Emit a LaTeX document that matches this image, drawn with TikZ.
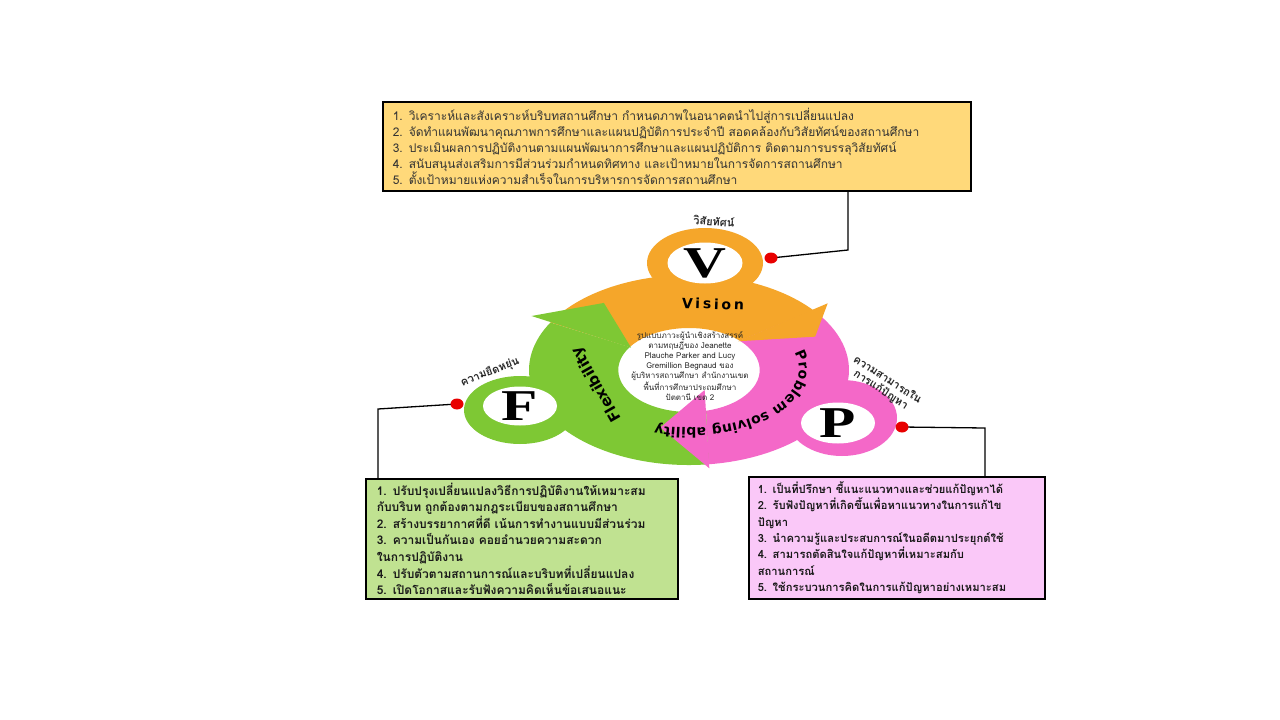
\documentclass[tikz,border=0pt]{standalone}
\usepackage{fontspec}
\usetikzlibrary{shapes.geometric,decorations.text}
\newfontfamily\thai[Script=Thai]{Loma}
\newfontfamily\ringfont{DejaVu Sans}
\newfontfamily\bigserif{Liberation Serif}
\definecolor{vorange}{RGB}{245,166,42}
\definecolor{fgreen}{RGB}{126,200,52}
\definecolor{ppink}{RGB}{244,104,200}
\definecolor{yfill}{RGB}{255,217,122}
\definecolor{gfill}{RGB}{192,226,145}
\definecolor{pfill}{RGB}{250,200,248}
\definecolor{reddot}{RGB}{232,0,0}
\begin{document}
\begin{tikzpicture}[x=1pt,y=1pt,
  infobox/.style={draw=black, line width=1.5pt, anchor=north west, align=left, inner ysep=0pt},
  conn/.style={draw=black, line width=1.3pt},
  dotnode/.style={ellipse, fill=reddot, minimum width=13pt, minimum height=11pt, inner sep=0pt},
  hole/.style={ellipse, fill=white, inner sep=0pt},
  bigletter/.style={font=\bigserif\bfseries\fontsize{44}{44}\selectfont, inner sep=0pt},
  sidelabel/.style={font=\thai\bfseries\fontsize{11}{12}\selectfont, text=black!85, inner sep=0pt, align=center},
  ringlabel/.style={font=\ringfont\bfseries\fontsize{14}{14}\selectfont, text=black, inner sep=0pt}
]
\fill[white] (0,0) rectangle (1280,-720);
\useasboundingbox (0,0) rectangle (1280,-720);

% boxes
\node[infobox, fill=yfill, text width=568pt, inner xsep=10pt, minimum height=89pt,
  font=\thai\fontsize{12}{16}\selectfont, text=black!80] (ybox) at (382,-101)
{1. วิเคราะห์และสังเคราะห์บริบทสถานศึกษา กำหนดภาพในอนาคตนำไปสู่การเปลี่ยนแปลง\\
2. จัดทำแผนพัฒนาคุณภาพการศึกษาและแผนปฏิบัติการประจำปี สอดคล้องกับวิสัยทัศน์ของสถานศึกษา\\
3. ประเมินผลการปฏิบัติงานตามแผนพัฒนาการศึกษาและแผนปฏิบัติการ ติดตามการบรรลุวิสัยทัศน์\\
4. สนับสนุนส่งเสริมการมีส่วนร่วมกำหนดทิศทาง และเป้าหมายในการจัดการสถานศึกษา\\
5. ตั้งเป้าหมายแห่งความสำเร็จในการบริหารการจัดการสถานศึกษา};

\node[infobox, fill=gfill, text width=290pt, inner xsep=11pt, minimum height=120pt,
  font=\thai\bfseries\fontsize{12}{16.6}\selectfont, text=black!90] (gbox) at (365,-478)
{1. ปรับปรุงเปลี่ยนแปลงวิธีการปฏิบัติงานให้เหมาะสม\\
กับบริบท ถูกต้องตามกฎระเบียบของสถานศึกษา\\
2. สร้างบรรยากาศที่ดี เน้นการทำงานแบบมีส่วนร่วม\\
3. ความเป็นกันเอง คอยอำนวยความสะดวก\\
ในการปฏิบัติงาน\\
4. ปรับตัวตามสถานการณ์และบริบทที่เปลี่ยนแปลง\\
5. เปิดโอกาสและรับฟังความคิดเห็นข้อเสนอแนะ};

\node[infobox, fill=pfill, text width=278pt, inner xsep=9pt, minimum height=122pt,
  font=\thai\bfseries\fontsize{11.2}{16.4}\selectfont, text=black!90] (pbox) at (748,-476)
{1. เป็นที่ปรึกษา ชี้แนะแนวทางและช่วยแก้ปัญหาได้\\
2. รับฟังปัญหาที่เกิดขึ้นเพื่อหาแนวทางในการแก้ไข\\
ปัญหา\\
3. นำความรู้และประสบการณ์ในอดีตมาประยุกต์ใช้\\
4. สามารถตัดสินใจแก้ปัญหาที่เหมาะสมกับ\\
สถานการณ์\\
5. ใช้กระบวนการคิดในการแก้ปัญหาอย่างเหมาะสม};

% ring
\begin{scope}[shift={(689,-370)}, xscale=1.684]
  \fill[vorange] (150:95) arc[start angle=150,end angle=39,radius=95] -- (44:42) arc[start angle=44,end angle=147,radius=42] -- cycle;
  \fill[ppink] (39:95) arc[start angle=39,end angle=-83,radius=95] -- (-76:42) arc[start angle=-76,end angle=44,radius=42] -- cycle;
  \fill[fgreen] (277:95) arc[start angle=277,end angle=150,radius=95] -- (147:42) arc[start angle=147,end angle=284,radius=42] -- cycle;
  \fill[vorange] (39:106) -- (24:82) -- (44.5:41) -- cycle;
  \fill[fgreen] (150:108) -- (127:84) -- (147:41) -- cycle;
  \fill[ppink] (277:99) -- (253.5:60) -- (295:22) -- cycle;
\end{scope}
% bumps
\fill[vorange] (705,-263) ellipse[x radius=58, y radius=35];
\fill[fgreen] (520,-410) ellipse[x radius=56, y radius=34];
\fill[ppink] (842,-418) ellipse[x radius=55, y radius=38];
\node[hole, minimum width=75pt, minimum height=41pt] (vhole) at (705,-263) {};
\node[hole, minimum width=74pt, minimum height=39pt] (fhole) at (520,-406) {};
\node[hole, minimum width=74pt, minimum height=41pt] (phole) at (838,-423) {};
\node[bigletter] (vlet) at (vhole.center) {\scalebox{1.35}[1]{V}};
\node[bigletter] (flet) at (fhole.center) {\scalebox{1.35}[1]{F}};
\node[bigletter] (plet) at (phole.center) {\scalebox{1.35}[1]{P}};

% connectors
\coordinate (vdotc) at (771,-258);
\coordinate (fdotc) at (457,-404);
\coordinate (pdotc) at (902,-427);
\coordinate (vbend) at (848,-250);
\coordinate (fbend) at (378,-409);
\coordinate (pbend) at (985,-428);
\draw[conn] (vdotc) -- (vbend) -- (vbend |- ybox.south);
\draw[conn] (fdotc) -- (fbend) -- (fbend |- gbox.north);
\draw[conn] (pdotc) -- (pbend) -- (pbend |- pbox.north);
\node[dotnode] (vdot) at (vdotc) {};
\node[dotnode] (fdot) at (fdotc) {};
\node[dotnode] (pdot) at (pdotc) {};

% ring texts
\node[ringlabel, rotate=-2] (visiontxt) at (713,-304) {\addfontfeature{LetterSpace=20}Vision};
\node[ringlabel, font=\ringfont\bfseries\fontsize{15}{15}\selectfont, rotate=119.6] (flextxt) at (597,-384) {Flexibility};
\path[decorate, decoration={text along path,
  text={|\ringfont\bfseries\fontsize{14}{14}\selectfont|Problem solving ability},
  text align=fit to path}]
  (689,-370) ++(17:110 and 58) arc[start angle=17, end angle=-108, x radius=110, y radius=58];

% center text
\node[font=\thai\fontsize{8}{10}\selectfont, align=center, text=black!85, inner sep=0pt] (centertxt) at (690,-366)
{รูปแบบภาวะผู้นำเชิงสร้างสรรค์\\ตามทฤษฎีของ Jeanette\\Plauche Parker and Lucy\\Gremillion Begnaud ของ\\ผู้บริหารสถานศึกษา สำนักงานเขต\\พื้นที่การศึกษาประถมศึกษา\\ปัตตานี เขต 2};

% side labels
\node[sidelabel, rotate=-4] (vlabel) at (714,-221) {วิสัยทัศน์};
\node[sidelabel, rotate=21] (flabel) at (490,-372) {ความยืดหยุ่น};
\node[sidelabel, rotate=-33] (plabel) at (884,-385) {ความสามารถใน\\การแก้ปัญหา};
\end{tikzpicture}
\end{document}
